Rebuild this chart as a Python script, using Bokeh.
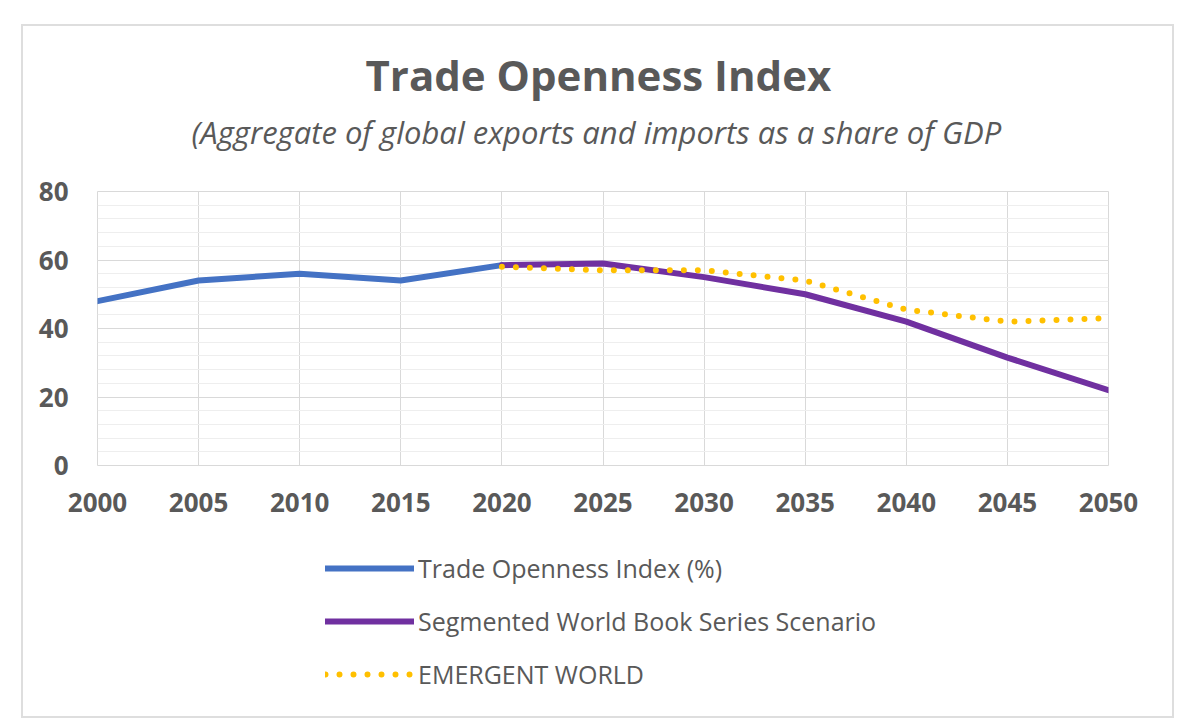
from bokeh.plotting import figure
from bokeh.layouts import column
from bokeh.models import Title, Legend, LegendItem, FixedTicker, Range1d
from bokeh.embed import file_html
from bokeh.resources import INLINE

title_text = "Trade Openness Index"
subtitle_text = "(Aggregate of global exports and imports as a share of GDP"

year_ticks = [2000, 2005, 2010, 2015, 2020, 2025, 2030, 2035, 2040, 2045, 2050]
y_ticks = [0, 20, 40, 60, 80]
y_minor = [0, 4, 8, 12, 16, 20, 24, 28, 32, 36, 40, 44, 48, 52, 56, 60, 64, 68, 72, 76, 80]

hist_years = [2000, 2005, 2010, 2015, 2020]
hist_vals = [48, 54, 56, 54, 58.5]

seg_years = [2020, 2025, 2030, 2035, 2040, 2045, 2050]
seg_vals = [58.5, 59, 55, 50, 42, 31.5, 22]

em_years = [2020, 2025, 2030, 2035, 2040, 2045, 2050]
em_vals = [58, 57, 57, 54, 45.5, 42, 43]

labels = ["Trade Openness Index (%)", "Segmented World Book Series Scenario", "EMERGENT WORLD"]
colors = ["#4472C4", "#7030A0", "#FFC000"]
dashes = ["solid", "solid", "0 14"]

TXT = "#595959"
FONT = "Open Sans"

series = [(hist_years, hist_vals), (seg_years, seg_vals), (em_years, em_vals)]

# ---- main chart ----
p = figure(width=1149, height=520, x_range=Range1d(2000, 2050), y_range=Range1d(0, 80),
           output_backend="svg", toolbar_location=None,
           min_border_left=74, min_border_right=64, min_border_top=165, min_border_bottom=81)
p.background_fill_color = "white"
p.border_fill_color = "white"
p.outline_line_color = "#d9d9d9"

p.title.text = title_text
p.title.text_font = FONT
p.title.text_font_style = "bold"
p.title.text_font_size = "42px"
p.title.text_color = TXT
p.title.align = "left"
p.title.offset = 268
p.title.standoff = -67
p.add_layout(Title(text=subtitle_text, text_font=FONT, text_font_style="italic", text_font_size="31px",
                   text_color=TXT, align="left", offset=94, standoff=78), "above")

p.xaxis.ticker = FixedTicker(ticks=year_ticks)
p.yaxis.ticker = FixedTicker(ticks=y_ticks, minor_ticks=y_minor)
for ax in (p.xaxis[0], p.yaxis[0]):
    ax.axis_line_color = None
    ax.major_tick_line_color = None
    ax.minor_tick_line_color = None
    ax.major_label_text_font = FONT
    ax.major_label_text_font_style = "bold"
    ax.major_label_text_font_size = "26px"
    ax.major_label_text_color = TXT
p.xaxis.major_label_standoff = 21
p.yaxis.major_label_standoff = 23

p.xgrid.ticker = FixedTicker(ticks=year_ticks)
p.xgrid.grid_line_color = "#d9d9d9"
p.ygrid.grid_line_color = "#d9d9d9"
p.ygrid.minor_grid_line_color = "#eeeeee"

for (xs, ys), col, dash in zip(series, colors, dashes):
    p.line(xs, ys, line_color=col, line_width=6, line_dash=dash, line_cap="round", line_join="round")

# ---- legend area: same series drawn in a view window that shows none of them, only the legend keys ----
p2 = figure(width=1149, height=170, x_range=Range1d(0, 1), y_range=Range1d(0, 1),
            x_axis_type=None, y_axis_type=None,
            output_backend="svg", toolbar_location=None,
            min_border_left=0, min_border_right=0, min_border_top=0, min_border_bottom=0)
p2.outline_line_color = None
p2.background_fill_color = "white"
p2.border_fill_color = "white"
p2.grid.visible = False
keys = []
for (xs, ys), lab, col, dash in zip(series, labels, colors, dashes):
    r = p2.line(xs, ys, line_color=col, line_width=6, line_dash=dash, line_cap="round")
    keys.append(LegendItem(label=lab, renderers=[r]))

legend = Legend(items=keys, location=(228, 25), orientation="vertical")
legend.label_text_font = FONT
legend.label_text_font_size = "25px"
legend.label_text_color = TXT
legend.glyph_width = 89
legend.glyph_height = 20
legend.label_height = 20
legend.label_standoff = 4
legend.spacing = 19
legend.padding = 0
legend.margin = 0
legend.border_line_color = None
legend.background_fill_alpha = 0
p2.add_layout(legend)

layout = column(p, p2, spacing=0, margin=(26, 0, 0, 23))
layout.styles = {"outline": "2px solid #dedede"}

open("out.html", "w").write(file_html(layout, INLINE))
